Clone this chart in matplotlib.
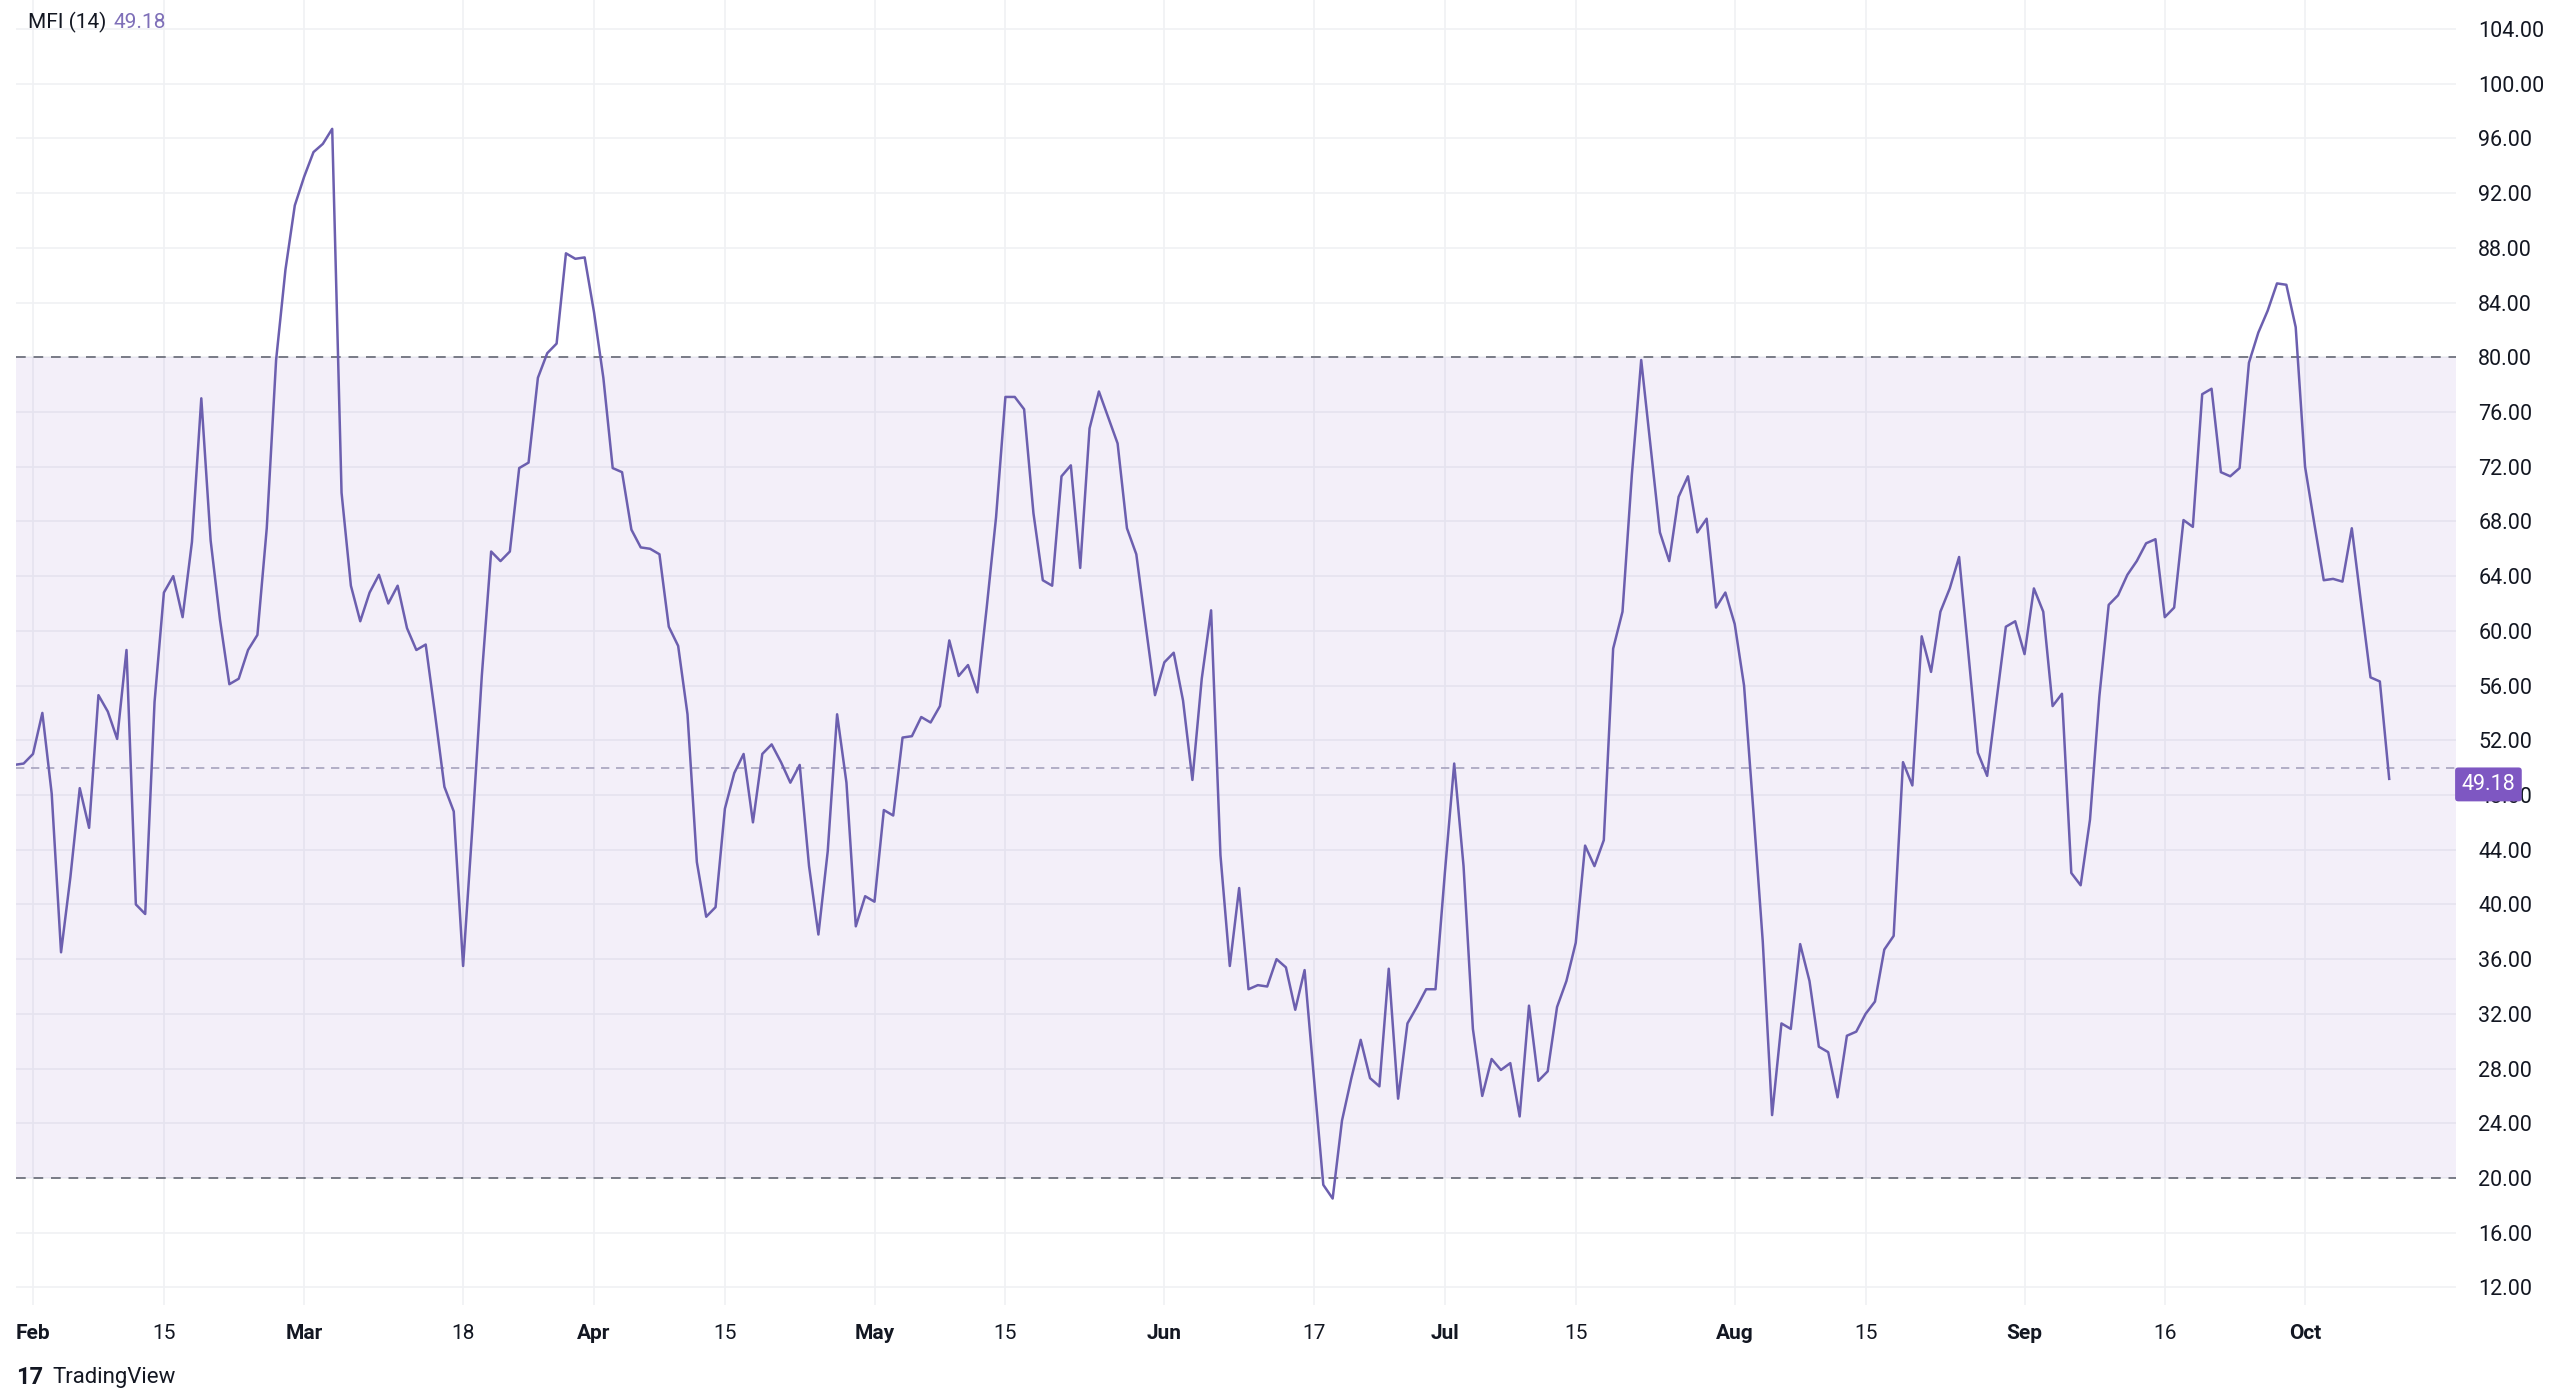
import numpy as np
import pandas as pd
import matplotlib
matplotlib.use("Agg")
import matplotlib.pyplot as plt
import matplotlib.dates as mdates

plt.rcParams['font.family'] = ['Roboto', 'DejaVu Sans']

# MFI (14) daily values
mfi = [
    50.2, 50.3, 51.0, 54.0, 48.1, 36.5, 42.0, 48.5, 45.6, 55.3, 54.1, 52.1, 58.6, 40.0, 39.3,
    54.8, 62.8, 64.0, 61.0, 66.5, 77.0, 66.6, 60.8, 56.1, 56.5, 58.6, 59.7, 67.5, 79.8, 86.4,
    91.1, 93.2, 95.0, 95.6, 96.7, 70.1, 63.3, 60.7, 62.8, 64.1, 62.0, 63.3, 60.2, 58.6, 59.0,
    53.9, 48.6, 46.8, 35.5, 45.7, 56.7, 65.8, 65.1, 65.8, 71.9, 72.3, 78.5, 80.3, 81.0, 87.6,
    87.2, 87.3, 83.3, 78.5, 71.9, 71.6, 67.4, 66.1, 66.0, 65.6, 60.3, 58.9, 53.9, 43.1, 39.1,
    39.8, 47.0, 49.6, 51.0, 46.0, 51.0, 51.7, 50.4, 48.9, 50.2, 42.8, 37.8, 43.9, 53.9,
    48.9, 38.4, 40.6, 40.2, 46.9, 46.5, 52.2, 52.3, 53.7, 53.3, 54.5, 59.3, 56.7, 57.5, 55.5,
    61.7, 68.3, 77.1, 77.1, 76.2, 68.6, 63.7, 63.3, 71.3, 72.1, 64.6, 74.8, 77.5, 75.6, 73.7,
    67.5, 65.6, 60.4, 55.3, 57.7, 58.4, 54.9, 49.1, 56.5, 61.5, 43.6, 35.5, 41.2, 33.8,
    34.1, 34.0, 36.0, 35.4, 32.3, 35.2, 27.3, 19.5, 18.5, 24.2, 27.3, 30.1, 27.3, 26.7, 35.3,
    25.8, 31.3, 32.5, 33.8, 33.8, 42.3, 50.3, 42.8, 30.9, 26.0, 28.7, 27.9, 28.4, 24.5, 32.6,
    27.1, 27.8, 32.5, 34.4, 37.2, 44.3, 42.8, 44.7, 58.7, 61.4, 71.4, 79.8, 73.5, 67.2, 65.1,
    69.8, 71.3, 67.2, 68.2, 61.7, 62.8, 60.5, 56.0, 46.8, 37.3, 24.6, 31.3, 30.9, 37.1, 34.4,
    29.6, 29.2, 25.9, 30.4, 30.7, 32.0, 32.9, 36.7, 37.7, 50.4, 48.7, 59.6, 57.0, 61.4, 63.1,
    65.4, 58.3, 51.1, 49.4, 54.9, 60.3, 60.7, 58.3, 63.1, 61.4, 54.5, 55.4, 42.3, 41.4,
    46.2, 55.2, 61.9, 62.6, 64.1, 65.1, 66.4, 66.7, 61.0, 61.7, 68.1, 67.6, 77.3, 77.7, 71.6,
    71.3, 71.9, 79.6, 81.8, 83.4, 85.4, 85.3, 82.2, 72.0, 67.8, 63.7, 63.8, 63.6, 67.5, 62.0,
    56.6, 56.3, 49.18,
]
dates = pd.date_range(end="2024-10-10", periods=len(mfi), freq="D")

tick_dates = ["2024-02-01", "2024-02-15", "2024-03-01", "2024-03-18", "2024-04-01",
              "2024-04-15", "2024-05-01", "2024-05-15", "2024-06-01", "2024-06-17",
              "2024-07-01", "2024-07-15", "2024-08-01", "2024-08-15", "2024-09-01",
              "2024-09-16", "2024-10-01"]
tick_labels = ["Feb", "15", "Mar", "18", "Apr", "15", "May", "15", "Jun", "17",
               "Jul", "15", "Aug", "15", "Sep", "16", "Oct"]
y_ticks = list(range(12, 105, 4))
upper, middle, lower = 80, 50, 20

W, H = 2560, 1399
fig = plt.figure(figsize=(W / 100, H / 100), dpi=100)
fig.patch.set_facecolor("white")
ax = fig.add_axes([16 / W, 1 - 1305 / H, (2456 - 16) / W, 1305 / H])
ax.set_facecolor("white")

line_col = "#6C5FAF"
grid_col = "#F0F1F4"

# pixel->day mapping: Feb 1 at x=33px, 9.35px per day
d0 = mdates.date2num(pd.Timestamp("2024-02-01"))
ax.set_xlim(d0 - (33 - 16) / 9.35, d0 + (2456 - 33) / 9.35)
ax.set_ylim(20 - (1305 - 1178) / 13.68, 100 + 83.7 / 13.68)

for y in y_ticks:
    ax.axhline(y, color=grid_col, lw=1.2, zorder=0)
for d in tick_dates:
    ax.axvline(mdates.date2num(pd.Timestamp(d)), color=grid_col, lw=1.2, zorder=0)

ax.axhspan(lower, upper, color="#7E57C2", alpha=0.09, lw=0, zorder=1)
for y in (upper, lower):
    ax.axhline(y, color="#787B86", lw=1.4, ls=(0, (5, 4)), zorder=2)
ax.axhline(middle, color="#A7A3BE", lw=1.2, ls=(0, (5, 4)), zorder=2)

ax.plot(dates, mfi, color=line_col, lw=1.8, zorder=3)

for s in ax.spines.values():
    s.set_visible(False)

ax.set_xticks([mdates.date2num(pd.Timestamp(d)) for d in tick_dates])
ax.set_xticklabels(tick_labels, fontsize=15, color="#131722")
for t in ax.get_xticklabels():
    if not t.get_text().isdigit():
        t.set_fontweight("bold")
ax.tick_params(axis="x", length=0, pad=14)

ax.yaxis.tick_right()
ax.set_yticks(y_ticks)
ax.set_yticklabels([f"{v:.2f}" for v in y_ticks], fontsize=15.5, color="#131722")
ax.tick_params(axis="y", length=0, pad=16)

# last value badge
last = mfi[-1]
ax.annotate(f"{last:.2f}", xy=(1.0, last), xycoords=("axes fraction", "data"),
            xytext=(4, -4), textcoords="offset points", ha="left", va="center",
            fontsize=15.5, color="white", zorder=5,
            bbox=dict(boxstyle="round,pad=0.3,rounding_size=0.15", fc="#7E57C2", ec="none"))

fig.text(28 / W, 1 - 22 / H, "MFI (14)", fontsize=15, color="#131722", va="center")
fig.text(113 / W, 1 - 22 / H, f"{last:.2f}", fontsize=15, color="#7E6FB8", va="center")
fig.text(16 / W, 1 - 1378 / H, "17", fontsize=17, fontweight="bold", color="#131722", va="center")
fig.text(52 / W, 1 - 1378 / H, "TradingView", fontsize=16, color="#131722", va="center")

fig.savefig("out.png", dpi=100)
